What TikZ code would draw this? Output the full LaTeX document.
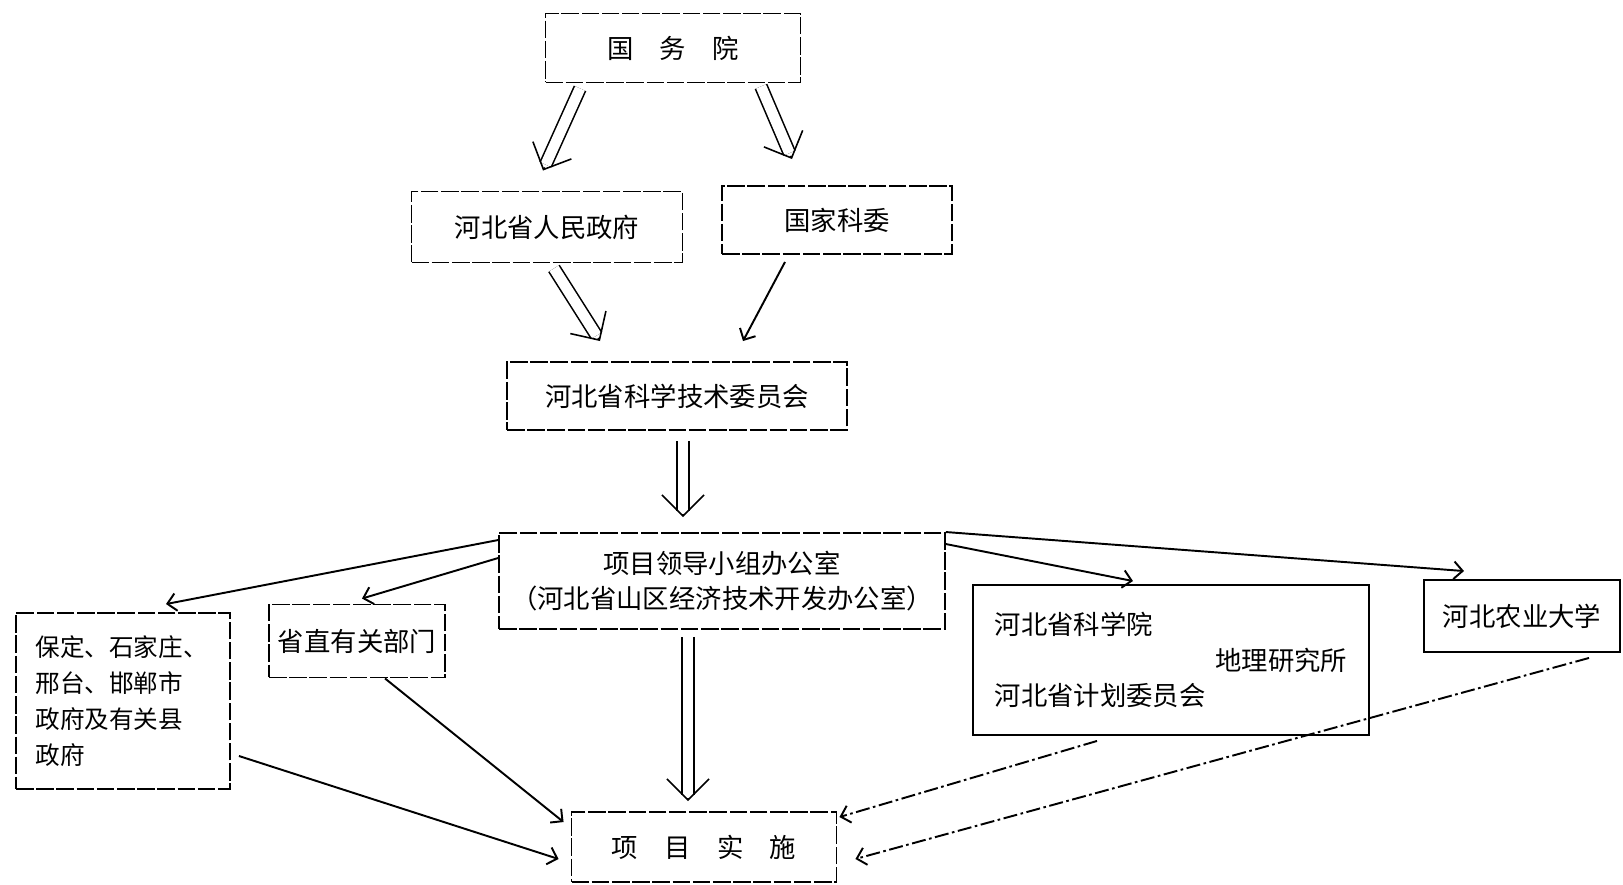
\documentclass[tikz,border=0pt]{standalone}
\usepackage{fontspec}
\setmainfont{Noto Sans CJK SC}
\usetikzlibrary{arrows.meta,calc}

\begin{document}
\begin{tikzpicture}[x=0.02cm,y=-0.02cm,
    box/.style={draw, line width=1.1pt, dash pattern=on 10pt off 1.5pt, inner sep=2pt, font=\fontsize{15}{20}\selectfont},
    solidbox/.style={box, solid},
    dbl/.style={double, double distance=6pt, line width=0.9pt, shorten >=3.7pt},
    dblhead/.style={line width=0.9pt, -{Straight Barb[length=12pt,width=24pt]}},
    link/.style={line width=1.1pt, -{Straight Barb[length=5pt,width=10pt]}},
    dashlink/.style={link, dash pattern=on 8pt off 2pt on 1.5pt off 2pt}]
    \useasboundingbox (0,0) rectangle (1623,885);
    % 上层
    \node[box, minimum width=5.1cm, minimum height=1.38cm] (gwy) at (673,48) {国\quad 务\quad 院};
    \node[box, minimum width=5.42cm, minimum height=1.42cm] (hbzf) at (547,227) {河北省人民政府};
    \node[box, minimum width=4.6cm, minimum height=1.36cm] (gjkw) at (837,220) {国家科委};
    \node[box, minimum width=6.8cm, minimum height=1.36cm] (kw) at (677,396) {河北省科学技术委员会};
    \node[box, minimum width=8.92cm, minimum height=1.92cm, align=center] (bgs) at (722,581)
        {项目领导小组办公室\\（河北省山区经济技术开发办公室）};
    % 下层
    \node[box, minimum width=4.28cm, minimum height=3.52cm, text width=3.5cm, align=left,
        font=\fontsize{14}{20.5}\selectfont] (bd) at (123,701)
        {保定、石家庄、\\邢台、邯郸市\\政府及有关县\\政府};
    \node[box, minimum width=3.52cm, minimum height=1.46cm] (szbm) at (357,641) {省直有关部门};
    \node[solidbox, minimum width=7.92cm, minimum height=3cm, text width=7.05cm, align=left] (kxy) at (1171,660)
        {河北省科学院\\\hfill 地理研究所\\河北省计划委员会};
    \node[solidbox, minimum width=3.92cm, minimum height=1.44cm] (nyd) at (1522,616) {河北农业大学};
    \node[box, minimum width=5.3cm, minimum height=1.4cm] (ssz) at (704,847) {项\quad 目\quad 实\quad 施};
    % 双线箭头
    \coordinate (s1) at ($(gwy.south)+(-93,5)$);
    \coordinate (e1) at ($(hbzf.north)+(-4,-20)$);
    \coordinate (s2) at ($(gwy.south)+(88,3)$);
    \coordinate (e2) at ($(gjkw.north)+(-45,-26)$);
    \coordinate (s3) at ($(hbzf.south)+(7,5)$);
    \coordinate (e3) at ($(kw.north)+(-77,-20)$);
    \coordinate (s4) at ($(kw.south)+(6,10)$);
    \coordinate (e4) at ($(bgs.north)+(-39,-15)$);
    \coordinate (s5) at ($(bgs.south)+(-34,7)$);
    \coordinate (e5) at ($(ssz.north)+(-16,-10)$);
    \foreach \s/\e in {s1/e1, s2/e2, s3/e3, s4/e4, s5/e5} {
        \draw[dbl] (\s) -- (\e);
        \draw[dblhead] ($(\e)!2pt!(\s)$) -- (\e);
    }
    % 单线箭头
    \draw[link] ($(gjkw.south)+(-52,7)$) -- ($(kw.north)+(66,-20)$);
    \draw[link] ($(bgs.north west)+(0,8)$) -- ($(bd.north)+(43,-8)$);
    \draw[link] ($(bgs.north west)+(0,26)$) -- ($(szbm.north)+(5,-5)$);
    \draw[link] ($(bgs.north east)+(0,12)$) -- ($(kxy.north)+(-38,-3)$);
    \draw[link] (bgs.north east) -- ($(nyd.north)+(-58,-8)$);
    \draw[link] ($(bd.east)+(8,55)$) -- ($(ssz.west)+(-12,12)$);
    \draw[link] ($(szbm.south)+(28,0)$) -- ($(ssz.north west)+(-7,11)$);
    \draw[dashlink] ($(kxy.south)+(-74,5)$) -- ($(ssz.north east)+(2,6)$);
    \draw[dashlink] ($(nyd.south)+(67,5)$) -- ($(ssz.east)+(18,12)$);
\end{tikzpicture}
\end{document}
